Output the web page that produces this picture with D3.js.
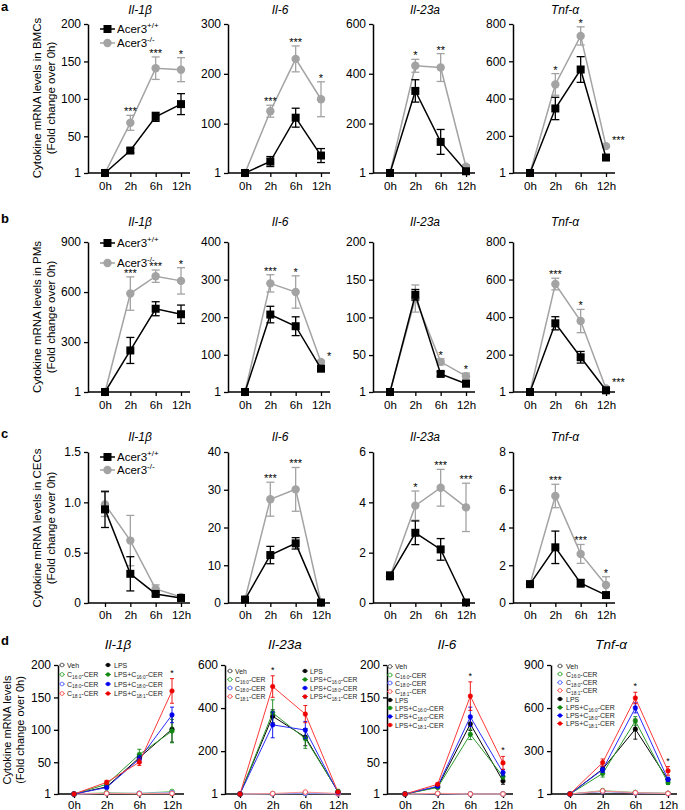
<!DOCTYPE html>
<html><head><meta charset="utf-8">
<script src="https://cdn.jsdelivr.net/npm/d3@7"></script>
<style>body{margin:0;background:#fff}</style>
</head><body>
<script>
// ---------------- DATA ----------------
const times = ["0h","2h","6h","12h"];
const genesABC = ["Il-1β","Il-6","Il-23a","Tnf-α"];
const genesD = ["Il-1β","Il-23a","Il-6","Tnf-α"];
const groupNames = ["Acer3","Acer3"];
const groupSups = ["+/+","-/-"];
const rowLetters = ["a","b","c","d"];
const rowLabels = ["Cytokine mRNA levels  in BMCs","Cytokine mRNA levels in PMs","Cytokine mRNA levels in CECs","Cytokine mRNA levels"];
const rowLabel2 = "(Fold change over 0h)";

// a: BMCs
const bmcWT    = [[1,31,76,93],[1,24,112,36],[1,331,126,8],[1,347,556,84]];
const bmcWTErr = [[0,3,6,14],[0,10,19,14],[0,45,50,4],[0,60,69,8]];
const bmcKO    = [[1,68,141,139],[1,125,230,149],[1,432,425,26],[1,476,736,145]];
const bmcKOErr = [[0,10,15,16],[0,12,26,35],[0,26,56,8],[0,58,49,6]];
const bmcStars = [["","***","***","*"],["","***","***","*"],["","*","**",""],["","*","*","***"]];
const ticksA = [[1,50,100,150,200],[1,100,200,300],[1,200,400,600],[1,200,400,600,800]];

// b: PMs
const pmWT    = [[1,250,500,467],[1,207,176,63],[1,130,25,12],[1,367,186,10]];
const pmWTErr = [[0,78,42,55],[0,22,25,5],[0,7,3,2],[0,35,31,4]];
const pmKO    = [[1,591,695,667],[1,290,267,81],[1,125,41,22],[1,576,379,20]];
const pmKOErr = [[0,100,37,79],[0,23,43,3],[0,18,4,4],[0,31,62,5]];
const pmStars = [["","***","***","*"],["","***","*","*"],["","","*","*"],["","***","*","***"]];
const ticksB = [[1,300,600,900],[1,100,200,300,400],[1,50,100,150,200],[1,200,400,600,800]];

// c: CECs
const cecWT    = [[0.93,0.29,0.09,0.05],[0.9,12.7,15.8,0.1],[1.08,2.79,2.13,0.02],[1.0,2.95,1.05,0.42]];
const cecWTErr = [[0.18,0.17,0.02,0.02],[0.3,2.3,1.5,0.1],[0.15,0.47,0.43,0.02],[0.1,0.86,0.2,0.13]];
const cecKO    = [[0.98,0.62,0.14,0.06],[1,27.5,30.1,0.2],[1.05,3.87,4.58,3.8],[1.0,5.67,2.6,0.95]];
const cecKOErr = [[0.12,0.25,0.04,0.02],[0.3,4.5,5.8,0.1],[0.1,0.58,0.73,0.96],[0.1,0.62,0.5,0.44]];
const cecStars = [["","","",""],["","***","***",""],["","*","***","***"],["","***","***","*"]];
const ticksC = [[0,0.5,1.0,1.5],[0,10,20,30,40],[0,2,4,6],[0,2,4,6,8]];
const tickLabelsC = [["0","0.5","1.0","1.5"],["0","10","20","30","40"],["0","2","4","6"],["0","2","4","6","8"]];

// d: ceramide treatments
const dSeries = ["Veh","C16:0-CER","C18:0-CER","C18:1-CER","LPS","LPS+C16:0-CER","LPS+C18:0-CER","LPS+C18:1-CER"];
const dIl1b    = [[1,2,1.5,1.5],[1,3,2,5],[1,2,2,3],[1,2,1.5,2],[1,12,57,101],[1,16,62,98],[1,11,55,123],[1,19,50,160]];
const dIl1bErr = [[0,0.5,0.5,0.5],[0,1,1,2],[0,0.5,0.5,1],[0,0.5,0.5,1],[0,2,5,20],[0,3,8,18],[0,2,5,12],[0,3,5,19]];
const dIl23a    = [[1,2,3,2],[1,3,5,3],[1,2,4,2],[1,3,10,3],[1,362,265,12],[1,378,258,14],[1,322,298,8],[1,500,372,10]];
const dIl23aErr = [[0,1,1,1],[0,1,2,1],[0,1,1,1],[0,1,3,1],[0,30,40,2],[0,60,45,3],[0,60,40,2],[0,50,40,2]];
const dIl6    = [[1,1.5,1,1],[1,2,1.2,1],[1,1.5,1,1],[1,2,1,1],[1,12,109,21],[1,11,93,28],[1,13,120,34],[1,16,152,49]];
const dIl6Err = [[0,0.3,0.2,0.2],[0,0.3,0.2,0.2],[0,0.3,0.2,0.2],[0,0.3,0.2,0.2],[0,1,10,5],[0,1,8,4],[0,1,15,5],[0,1.5,22,10]];
const dTnf    = [[1,20,10,5],[1,25,12,6],[1,18,8,4],[1,22,10,5],[1,175,453,100],[1,144,510,80],[1,171,601,103],[1,220,670,162]];
const dTnfErr = [[0,4,3,2],[0,5,3,2],[0,4,2,2],[0,4,3,2],[0,20,70,15],[0,25,30,12],[0,20,35,15],[0,25,40,30]];
const dStars = [["","","","*"],["","*","*",""],["","","*","*"],["","","*","*"]];
const ticksD = [[1,50,100,150,200],[1,200,400,600],[1,50,100,150,200],[1,300,600,900]];

// ---------------- LAYOUT / STYLE ----------------
const FONT = "'Liberation Sans', Arial, Helvetica, sans-serif";
const W = 685, H = 810;
const svg = d3.select("body").append("svg").attr("width", W).attr("height", H)
  .style("font-family", FONT);

const rowsABC = [
  {letterY:11,  titleY:14,  top:24,  bottom:173, xlabY:190, legendY:[29,43],   ylabC:98,
   wt:bmcWT, wtE:bmcWTErr, ko:bmcKO, koE:bmcKOErr, stars:bmcStars, ticks:ticksA, labels:null, starRight:[false,false,false,true]},
  {letterY:223, titleY:226, top:242, bottom:392, xlabY:409, legendY:[243,263], ylabC:317,
   wt:pmWT, wtE:pmWTErr, ko:pmKO, koE:pmKOErr, stars:pmStars, ticks:ticksB, labels:null, starRight:[false,true,false,true]},
  {letterY:438, titleY:441, top:452, bottom:603, xlabY:619, legendY:[457,470], ylabC:528,
   wt:cecWT, wtE:cecWTErr, ko:cecKO, koE:cecKOErr, stars:cecStars, ticks:ticksC, labels:tickLabelsC, starRight:[false,false,false,false]},
];
const axisXABC = [88,228,373,513];
const BLACK = "#000", GREY = "#a3a3a3";

function styleAxis(sel){
  sel.select(".domain").attr("stroke","#000").attr("stroke-width",1.5);
  sel.selectAll(".tick line").attr("stroke","#000").attr("stroke-width",1.3);
  sel.selectAll(".tick text").attr("fill","#000").style("font-family",FONT);
}

function errBars(g, x, y, vals, errs, color, cap, sw){
  vals.forEach((v,i)=>{
    const e = errs[i]; if(!e) return;
    const cx = x(times[i]);
    const y1 = y(v+e), y2 = y(Math.max(v-e, y.domain()[0]));
    g.append("line").attr("x1",cx).attr("x2",cx).attr("y1",y1).attr("y2",y2).attr("stroke",color).attr("stroke-width",sw);
    g.append("line").attr("x1",cx-cap).attr("x2",cx+cap).attr("y1",y1).attr("y2",y1).attr("stroke",color).attr("stroke-width",sw);
    if (v-e > y.domain()[0])
      g.append("line").attr("x1",cx-cap).attr("x2",cx+cap).attr("y1",y2).attr("y2",y2).attr("stroke",color).attr("stroke-width",sw);
  });
}

// row letters & y labels
[ ...rowsABC.map(r=>r.letterY), 645 ].forEach((ly,i)=>{
  svg.append("text").attr("x",1).attr("y",ly).text(rowLetters[i])
    .attr("font-size",13).attr("font-weight","bold");
});
rowsABC.forEach((r,ri)=>{
  svg.append("text").attr("transform",`translate(41,${r.ylabC}) rotate(-90)`)
    .attr("text-anchor","middle").attr("font-size",11.5).text(rowLabels[ri]);
  svg.append("text").attr("transform",`translate(55,${r.ylabC}) rotate(-90)`)
    .attr("text-anchor","middle").attr("font-size",11.5).text(rowLabel2);
});

// ---------------- ROWS a-c ----------------
rowsABC.forEach((r,ri)=>{
  genesABC.forEach((gene,gi)=>{
    const x0 = axisXABC[gi];
    const g = svg.append("g");
    const x = d3.scalePoint().domain(times).range([x0+17, x0+93]);
    const tk = r.ticks[gi];
    const y = d3.scaleLinear().domain([tk[0], tk[tk.length-1]]).range([r.bottom, r.top]);
    g.append("text").attr("x", x0+52).attr("y", r.titleY).attr("text-anchor","middle")
      .attr("font-size",12).attr("font-style","italic").text(gene);
    const ya = d3.axisLeft(y).tickValues(tk).tickSize(4).tickSizeOuter(0).tickPadding(3)
      .tickFormat((d,i)=> r.labels ? r.labels[gi][i] : String(d));
    const yg = g.append("g").attr("transform",`translate(${x0},0)`).call(ya);
    styleAxis(yg); yg.selectAll(".tick text").attr("font-size",12);
    const xa = d3.axisBottom(x).tickSize(4).tickSizeOuter(0).tickPadding(3);
    const xg = g.append("g").attr("transform",`translate(0,${r.bottom})`).call(xa);
    styleAxis(xg); xg.select(".domain").remove();
    xg.selectAll(".tick text").attr("font-size",11.5).attr("dy",null).attr("y", r.xlabY - r.bottom);
    g.append("line").attr("x1",x0).attr("x2",x0+102).attr("y1",r.bottom).attr("y2",r.bottom)
      .attr("stroke","#000").attr("stroke-width",1.5);

    const line = d3.line().x((d,i)=>x(times[i])).y(d=>y(d));
    g.append("path").attr("d", line(r.ko[gi])).attr("fill","none").attr("stroke",GREY).attr("stroke-width",1.5);
    errBars(g, x, y, r.ko[gi], r.koE[gi], GREY, 4, 1.3);
    r.ko[gi].forEach((v,i)=> g.append("circle").attr("cx",x(times[i])).attr("cy",y(v)).attr("r",4.2).attr("fill",GREY));
    g.append("path").attr("d", line(r.wt[gi])).attr("fill","none").attr("stroke",BLACK).attr("stroke-width",1.5);
    errBars(g, x, y, r.wt[gi], r.wtE[gi], BLACK, 4, 1.3);
    r.wt[gi].forEach((v,i)=> g.append("rect").attr("x",x(times[i])-4).attr("y",y(v)-4).attr("width",8).attr("height",8).attr("fill",BLACK));
    r.stars[gi].forEach((s,i)=>{
      if(!s) return;
      const topV = Math.max(r.ko[gi][i]+r.koE[gi][i], r.wt[gi][i]+r.wtE[gi][i]);
      const right = r.starRight[gi] && i===3;
      g.append("text").attr("x", x(times[i]) + (right? 6:0)).attr("y", y(topV) + (right? -1:0))
        .attr("text-anchor", right? "start":"middle").attr("font-size",11).text(s);
    });
    if(gi===0){
      r.legendY.forEach((ly,li)=>{
        const col = li===0? BLACK:GREY;
        g.append("line").attr("x1",x0+12).attr("x2",x0+27).attr("y1",ly).attr("y2",ly).attr("stroke",col).attr("stroke-width",1.5);
        if(li===0) g.append("rect").attr("x",x0+15.5).attr("y",ly-4).attr("width",8).attr("height",8).attr("fill",col);
        else g.append("circle").attr("cx",x0+19.5).attr("cy",ly).attr("r",4.2).attr("fill",col);
        const t = g.append("text").attr("x",x0+29).attr("y",ly+4).attr("font-size",11.5).text(groupNames[li]);
        t.append("tspan").attr("font-size",8).attr("dy",-5).text(groupSups[li]);
      });
    }
  });
});

// ---------------- ROW d ----------------
const dData = [dIl1b, dIl23a, dIl6, dTnf];
const dErr  = [dIl1bErr, dIl23aErr, dIl6Err, dTnfErr];
const axisXD = [58,225,387,551];
const dOff = [16,15,18,19];
const dTop = 665, dBottom = 794;
const dColors = ["#555555","#3fae3f","#5566ff","#ff5555","#000000","#118811","#0000ee","#ee0000"];
const dLineColors = ["#888888","#7fcf7f","#8f9bff","#ff8f8f","#000000","#2e9a2e","#2a2aff","#ff3a3a"];

svg.append("text").attr("transform",`translate(11,730) rotate(-90)`).attr("text-anchor","middle").attr("font-size",11).text(rowLabels[3]);
svg.append("text").attr("transform",`translate(24,730) rotate(-90)`).attr("text-anchor","middle").attr("font-size",11).text(rowLabel2);

function legendLabel(t, name, fs){
  const m = name.match(/^(.*?C)(\d+:\d)(.*)$/);
  if(!m){ t.text(name); return; }
  t.append("tspan").text(m[1]);
  t.append("tspan").attr("font-size",fs*0.68).attr("dy",1.5).text(m[2]);
  t.append("tspan").attr("dy",-1.5).text(m[3]);
}

const dLegend = [
  {cols:[[62,67],[108,114]], rows:[665,674.5,684,693.5], fs:7},
  {cols:[[230,235],[305,310]], rows:[671,679.5,688,696.5], fs:6.8},
  {cols:[[390,395]], rows:[666.5,675,683,691.5,700,708,716.5,725], fs:7},
  {cols:[[560,566]], rows:[666,674,682.5,690.5,699,707.5,715.5,723.5], fs:7},
];

genesD.forEach((gene,gi)=>{
  const x0 = axisXD[gi];
  const g = svg.append("g");
  const x = d3.scalePoint().domain(times).range([x0+dOff[gi], x0+dOff[gi]+98]);
  const tk = ticksD[gi];
  const y = d3.scaleLinear().domain([tk[0], tk[tk.length-1]]).range([dBottom, dTop]);
  g.append("text").attr("x", x0+60).attr("y", 649).attr("text-anchor","middle")
    .attr("font-size",13.5).attr("font-style","italic").text(gene);
  const yg = g.append("g").attr("transform",`translate(${x0},0)`)
    .call(d3.axisLeft(y).tickValues(tk).tickSize(4).tickSizeOuter(0).tickPadding(3).tickFormat(d=>String(d)));
  styleAxis(yg); yg.selectAll(".tick text").attr("font-size",12);
  const xg = g.append("g").attr("transform",`translate(0,${dBottom})`)
    .call(d3.axisBottom(x).tickSize(4).tickSizeOuter(0).tickPadding(3));
  styleAxis(xg); xg.select(".domain").remove();
  xg.selectAll(".tick text").attr("font-size",11.5).attr("dy",null).attr("y",15);
  g.append("line").attr("x1",x0).attr("x2",x0+126).attr("y1",dBottom).attr("y2",dBottom)
    .attr("stroke","#000").attr("stroke-width",1.5);

  const line = d3.line().x((d,i)=>x(times[i])).y(d=>y(d));
  dData[gi].forEach((vals,si)=>{
    g.append("path").attr("d", line(vals)).attr("fill","none").attr("stroke",dLineColors[si]).attr("stroke-width",1);
  });
  dData[gi].forEach((vals,si)=>{
    errBars(g, x, y, vals, dErr[gi][si], dColors[si], 2, 0.9);
    vals.forEach((v,i)=>{
      g.append("circle").attr("cx",x(times[i])).attr("cy",y(v)).attr("r",2.3)
        .attr("fill", si<4? "#fff": dColors[si]).attr("stroke",dColors[si]).attr("stroke-width", si<4?1:0.5);
    });
  });
  dStars[gi].forEach((s,i)=>{
    if(!s) return;
    const topV = d3.max(dData[gi], (vals,si)=> vals[i] + dErr[gi][si][i]);
    g.append("text").attr("x", x(times[i])).attr("y", y(topV)-3).attr("text-anchor","middle").attr("font-size",9).text(s);
  });
  const L = dLegend[gi];
  const perCol = L.rows.length;
  dSeries.forEach((name,si)=>{
    const c = Math.floor(si/perCol), rI = si%perCol;
    const [mx,tx] = L.cols[c]; const ly = L.rows[rI];
    g.append("line").attr("x1",mx-3).attr("x2",mx+3).attr("y1",ly).attr("y2",ly).attr("stroke",dColors[si]).attr("stroke-width",0.8);
    g.append("circle").attr("cx",mx).attr("cy",ly).attr("r",1.9)
      .attr("fill", si<4? "#fff": dColors[si]).attr("stroke",dColors[si]).attr("stroke-width", si<4?0.9:0.4);
    const t = g.append("text").attr("x",tx).attr("y",ly+2.5).attr("font-size",L.fs).attr("fill","#222");
    legendLabel(t, name, L.fs);
  });
});
</script>
</body></html>
